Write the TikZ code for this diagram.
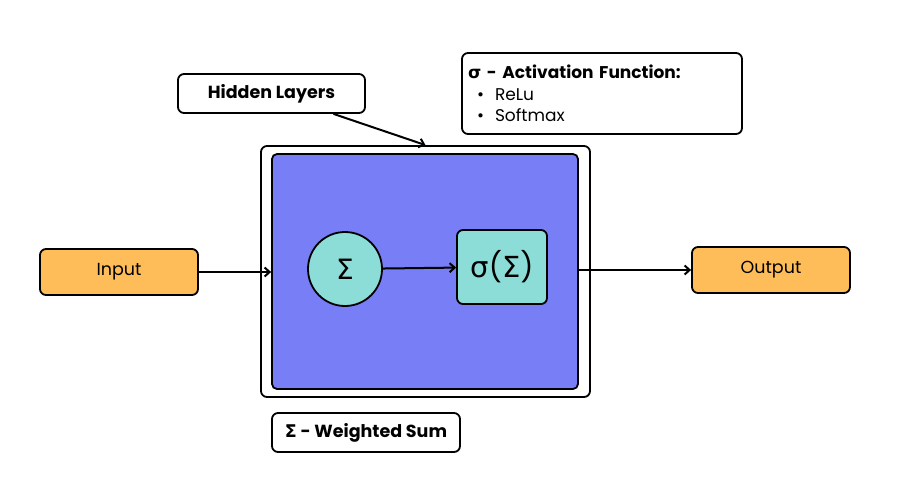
\documentclass[tikz,border=0pt]{standalone}
\usepackage{fontspec}
\setmainfont{Poppins}
\newfontfamily\greekfont{DejaVu Sans}
\usetikzlibrary{positioning, arrows.meta}
\definecolor{layerblue}{RGB}{120,126,245}
\definecolor{unitteal}{RGB}{140,220,216}
\definecolor{ioorange}{RGB}{255,189,89}
\newcommand{\gk}[1]{{\greekfont #1}}
\tikzset{
  box/.style={draw, line width=1.8pt, rounded corners=6pt, inner sep=0pt, font=\fontsize{17.5}{21}\selectfont},
  label box/.style={box, fill=white, font=\fontsize{17.5}{21}\selectfont\bfseries},
  io/.style={box, fill=ioorange, minimum width=158pt, minimum height=46pt},
  arrow/.style={->, line width=2pt}
}

\begin{document}
\begin{tikzpicture}[x=1pt, y=-1pt, >={Straight Barb[length=5pt, width=9pt]}]
    \useasboundingbox (0,0) rectangle (920,483);
    % hidden layer
    \node[box, fill=white, minimum width=329pt, minimum height=251pt] (outer) at (425.5,271.5) {};
    \node[box, fill=layerblue, minimum width=306pt, minimum height=235pt, rounded corners=5pt] (layer) at (425,271.5) {};
    \node[circle, draw, line width=1.8pt, fill=unitteal, minimum size=74pt, inner sep=0pt] (sum) at (345,269) {\greekfont\fontsize{28}{30}\selectfont Σ};
    \node[box, fill=unitteal, minimum width=90pt, minimum height=74pt] (act) at (502,267) {\fontsize{29}{32}\selectfont\gk{σ}(\gk{Σ})};
    % input / output
    \node[io] (input) at (119,272) {Input};
    \node[io] (output) at (771,270) {Output};
    % labels
    \node[label box, minimum width=187pt, minimum height=39pt] (hidden) at (271.5,93.5) {Hidden Layers};
    \node[label box, minimum width=188pt, minimum height=39pt] (wsum) at (366,432.5) {\gk{Σ} - Weighted Sum};
    \node[box, fill=white, minimum width=280pt, minimum height=81pt, text width=268pt, align=left, inner xsep=6pt,
          font=\fontsize{17}{21.5}\selectfont] (actinfo) at (602,93.5)
        {{\bfseries\gk{σ} - Activation Function:}\\
         \hspace*{9pt}\textbullet\hspace{11pt}ReLu\\
         \hspace*{9pt}\textbullet\hspace{11pt}Softmax};

    \draw[arrow] (input.east) -- (input.east -| layer.west);
    \draw[arrow] (sum) -- (act);
    \draw[arrow] (output.west -| layer.east) -- (output.west);
    \draw[arrow] ([xshift=62pt]hidden.south) -- (outer.north);
\end{tikzpicture}
\end{document}
